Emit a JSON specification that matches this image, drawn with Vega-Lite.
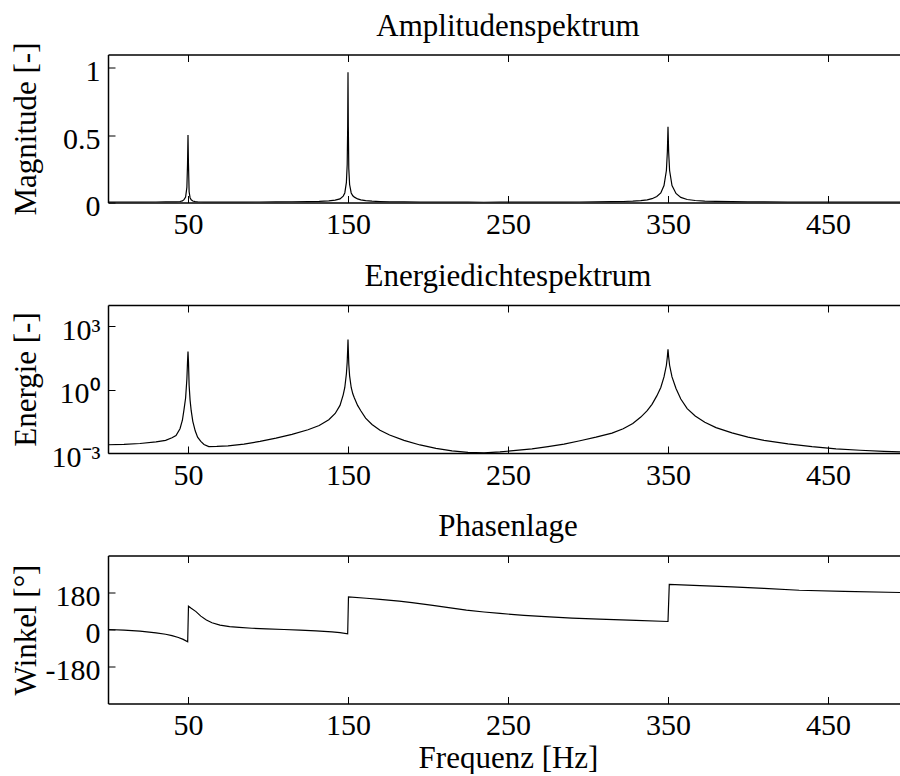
{
  "$schema": "https://vega.github.io/schema/vega-lite/v6.json",
  "background": "white",
  "padding": {"left": 10, "top": 10.5, "right": 0, "bottom": 0},
  "datasets": {
    "spec": [
      {"f": 0, "mag": 0.0031, "E": 0.00245},
      {"f": 10, "mag": 0.0032, "E": 0.00257},
      {"f": 20, "mag": 0.0034, "E": 0.00282},
      {"f": 30, "mag": 0.0037, "E": 0.00339},
      {"f": 36, "mag": 0.004, "E": 0.00398},
      {"f": 40, "mag": 0.0046, "E": 0.00525},
      {"f": 42.5, "mag": 0.0052, "E": 0.00676},
      {"f": 45, "mag": 0.0075, "E": 0.0141},
      {"f": 46.5, "mag": 0.0119, "E": 0.0355},
      {"f": 47.5, "mag": 0.0212, "E": 0.112},
      {"f": 48.5, "mag": 0.0399, "E": 0.398},
      {"f": 49.3, "mag": 0.1125, "E": 3.16},
      {"f": 49.7, "mag": 0.2825, "E": 19.95},
      {"f": 50, "mag": 0.5024, "E": 63.1},
      {"f": 50.3, "mag": 0.2825, "E": 19.95},
      {"f": 50.7, "mag": 0.0796, "E": 1.585},
      {"f": 51.3, "mag": 0.0356, "E": 0.316},
      {"f": 52, "mag": 0.02, "E": 0.1},
      {"f": 53, "mag": 0.0112, "E": 0.0316},
      {"f": 54.5, "mag": 0.0067, "E": 0.0112},
      {"f": 56, "mag": 0.0047, "E": 0.00562},
      {"f": 58, "mag": 0.0038, "E": 0.00355},
      {"f": 60, "mag": 0.0032, "E": 0.00251},
      {"f": 63, "mag": 0.0028, "E": 0.002},
      {"f": 68, "mag": 0.0029, "E": 0.00204},
      {"f": 75, "mag": 0.003, "E": 0.00219},
      {"f": 85, "mag": 0.0032, "E": 0.00263},
      {"f": 95, "mag": 0.0038, "E": 0.00355},
      {"f": 105, "mag": 0.0045, "E": 0.00501},
      {"f": 115, "mag": 0.0055, "E": 0.00759},
      {"f": 125, "mag": 0.0071, "E": 0.0126},
      {"f": 132, "mag": 0.0089, "E": 0.02},
      {"f": 138, "mag": 0.0122, "E": 0.0372},
      {"f": 142, "mag": 0.0172, "E": 0.0741},
      {"f": 145, "mag": 0.0267, "E": 0.178},
      {"f": 147, "mag": 0.0474, "E": 0.562},
      {"f": 148, "mag": 0.071, "E": 1.259},
      {"f": 149, "mag": 0.15, "E": 5.62},
      {"f": 149.5, "mag": 0.2825, "E": 19.95},
      {"f": 149.8, "mag": 0.5636, "E": 79.4},
      {"f": 150, "mag": 0.968, "E": 234.4},
      {"f": 150.2, "mag": 0.5636, "E": 79.4},
      {"f": 150.5, "mag": 0.2518, "E": 15.85},
      {"f": 151, "mag": 0.1337, "E": 4.47},
      {"f": 152, "mag": 0.071, "E": 1.259},
      {"f": 153, "mag": 0.0502, "E": 0.631},
      {"f": 154, "mag": 0.0399, "E": 0.398},
      {"f": 156, "mag": 0.0267, "E": 0.178},
      {"f": 158, "mag": 0.02, "E": 0.1},
      {"f": 161, "mag": 0.0134, "E": 0.0447},
      {"f": 165, "mag": 0.0095, "E": 0.0224},
      {"f": 170, "mag": 0.0069, "E": 0.012},
      {"f": 176, "mag": 0.0053, "E": 0.00708},
      {"f": 185, "mag": 0.004, "E": 0.00398},
      {"f": 195, "mag": 0.0031, "E": 0.0024},
      {"f": 205, "mag": 0.0026, "E": 0.00166},
      {"f": 215, "mag": 0.0022, "E": 0.00126},
      {"f": 225, "mag": 0.0021, "E": 0.00107},
      {"f": 235, "mag": 0.002, "E": 0.00102},
      {"f": 245, "mag": 0.0021, "E": 0.00112},
      {"f": 255, "mag": 0.0023, "E": 0.00132},
      {"f": 265, "mag": 0.0025, "E": 0.00158},
      {"f": 275, "mag": 0.0028, "E": 0.002},
      {"f": 285, "mag": 0.0032, "E": 0.00263},
      {"f": 295, "mag": 0.0039, "E": 0.0038},
      {"f": 305, "mag": 0.0047, "E": 0.00562},
      {"f": 315, "mag": 0.0059, "E": 0.00871},
      {"f": 322, "mag": 0.0075, "E": 0.0141},
      {"f": 328, "mag": 0.01, "E": 0.0251},
      {"f": 333, "mag": 0.0142, "E": 0.0501},
      {"f": 337, "mag": 0.02, "E": 0.1},
      {"f": 340, "mag": 0.0283, "E": 0.1995},
      {"f": 343, "mag": 0.0448, "E": 0.501},
      {"f": 345.5, "mag": 0.071, "E": 1.259},
      {"f": 347.5, "mag": 0.1262, "E": 3.98},
      {"f": 349, "mag": 0.2377, "E": 14.13},
      {"f": 349.6, "mag": 0.3768, "E": 35.5},
      {"f": 350, "mag": 0.5636, "E": 79.4},
      {"f": 350.4, "mag": 0.3768, "E": 35.5},
      {"f": 351, "mag": 0.2377, "E": 14.13},
      {"f": 352.5, "mag": 0.1262, "E": 3.98},
      {"f": 355, "mag": 0.067, "E": 1.122},
      {"f": 358, "mag": 0.0377, "E": 0.355},
      {"f": 362, "mag": 0.0224, "E": 0.126},
      {"f": 367, "mag": 0.015, "E": 0.0562},
      {"f": 373, "mag": 0.0106, "E": 0.0282},
      {"f": 380, "mag": 0.008, "E": 0.0158},
      {"f": 390, "mag": 0.006, "E": 0.00891},
      {"f": 400, "mag": 0.0047, "E": 0.00562},
      {"f": 410, "mag": 0.004, "E": 0.00398},
      {"f": 425, "mag": 0.0033, "E": 0.00269},
      {"f": 440, "mag": 0.0028, "E": 0.002},
      {"f": 455, "mag": 0.0025, "E": 0.00158},
      {"f": 470, "mag": 0.0023, "E": 0.00135},
      {"f": 485, "mag": 0.0022, "E": 0.0012},
      {"f": 495, "mag": 0.0021, "E": 0.00112}
    ],
    "phase": [
      {"f": 0, "deg": 0},
      {"f": 10, "deg": -3},
      {"f": 20, "deg": -8},
      {"f": 30, "deg": -16},
      {"f": 36, "deg": -23},
      {"f": 40, "deg": -30},
      {"f": 44, "deg": -39},
      {"f": 47, "deg": -48},
      {"f": 49.8, "deg": -60},
      {"f": 50.3, "deg": 113},
      {"f": 52, "deg": 103},
      {"f": 55, "deg": 87},
      {"f": 58, "deg": 65},
      {"f": 61.5, "deg": 46},
      {"f": 65, "deg": 33},
      {"f": 70, "deg": 21},
      {"f": 76, "deg": 14},
      {"f": 82, "deg": 10},
      {"f": 90, "deg": 6},
      {"f": 99, "deg": 3},
      {"f": 110, "deg": 0},
      {"f": 120, "deg": -3},
      {"f": 130, "deg": -7},
      {"f": 140, "deg": -12},
      {"f": 145, "deg": -15},
      {"f": 149.8, "deg": -21},
      {"f": 150.3, "deg": 159},
      {"f": 161.5, "deg": 152},
      {"f": 170, "deg": 147},
      {"f": 182, "deg": 138},
      {"f": 190, "deg": 131},
      {"f": 203, "deg": 117},
      {"f": 214, "deg": 105},
      {"f": 224, "deg": 94},
      {"f": 235, "deg": 85},
      {"f": 245, "deg": 78},
      {"f": 260, "deg": 69},
      {"f": 276, "deg": 61},
      {"f": 290, "deg": 55},
      {"f": 307, "deg": 50},
      {"f": 330, "deg": 44},
      {"f": 350, "deg": 39},
      {"f": 350.8, "deg": 219},
      {"f": 370, "deg": 213},
      {"f": 390, "deg": 207},
      {"f": 410, "deg": 200},
      {"f": 432, "deg": 191},
      {"f": 460, "deg": 185},
      {"f": 495, "deg": 180}
    ]
  },
  "spacing": 102.5,
  "bounds": "flush",
  "vconcat": [
    {
      "data": {"name": "spec"},
      "width": 792,
      "height": 148,
      "title": {"text": "Amplitudenspektrum", "dx": 4, "offset": -1},
      "encoding": {
        "y": {
          "field": "mag", "type": "quantitative",
          "scale": {"domain": [0, 1.1], "nice": false, "zero": false},
          "axis": {"values": [0, 0.5, 1], "labelExpr": "'' + datum.value", "title": "Magnitude [-]", "titleX": -73, "titleY": 74}
        }
      },
      "layer": [
        {
          "mark": {"type": "line", "color": "black", "strokeWidth": 1.2, "clip": true},
          "encoding": {
            "x": {"field": "f", "type": "quantitative", "scale": {"domain": [0, 495], "nice": false, "zero": false},
              "axis": {"values": [50, 150, 250, 350, 450], "title": null}}
          }
        },
        {
          "mark": {"type": "line", "opacity": 0},
          "encoding": {
            "x": {"field": "f", "type": "quantitative",
              "axis": {"orient": "top", "values": [50, 150, 250, 350, 450], "labels": false, "title": null}}
          }
        }
      ],
      "resolve": {"axis": {"x": "independent"}}
    },
    {
      "data": {"name": "spec"},
      "width": 792,
      "height": 148,
      "title": {"text": "Energiedichtespektrum", "dx": 4, "offset": 12},
      "encoding": {
        "y": {
          "field": "E", "type": "quantitative",
          "scale": {"type": "log", "domain": [0.001, 10000], "nice": false},
          "axis": {"values": [0.001, 1, 1000], "labelExpr": "datum.value >= 1000 ? '10³' : datum.value >= 1 ? '10⁰' : '10⁻³'", "title": "Energie [-]", "titleX": -73, "titleY": 74}
        }
      },
      "layer": [
        {
          "mark": {"type": "line", "color": "black", "strokeWidth": 1.2, "clip": true},
          "encoding": {
            "x": {"field": "f", "type": "quantitative", "scale": {"domain": [0, 495], "nice": false, "zero": false},
              "axis": {"values": [50, 150, 250, 350, 450], "title": null}}
          }
        },
        {
          "mark": {"type": "line", "opacity": 0},
          "encoding": {
            "x": {"field": "f", "type": "quantitative",
              "axis": {"orient": "top", "values": [50, 150, 250, 350, 450], "labels": false, "title": null}}
          }
        }
      ],
      "resolve": {"axis": {"x": "independent"}}
    },
    {
      "data": {"name": "phase"},
      "width": 792,
      "height": 148,
      "title": {"text": "Phasenlage", "dx": 4, "offset": 12},
      "encoding": {
        "y": {
          "field": "deg", "type": "quantitative",
          "scale": {"domain": [-360, 360], "nice": false, "zero": false},
          "axis": {"values": [-180, 0, 180], "labelExpr": "'' + datum.value", "title": "Winkel [°]", "titleX": -73, "titleY": 74}
        }
      },
      "layer": [
        {
          "mark": {"type": "line", "color": "black", "strokeWidth": 1.2, "clip": true},
          "encoding": {
            "x": {"field": "f", "type": "quantitative", "scale": {"domain": [0, 495], "nice": false, "zero": false},
              "axis": {"values": [50, 150, 250, 350, 450], "title": "Frequenz [Hz]", "titleX": 400, "titleY": 64, "titleBaseline": "alphabetic"}}
          }
        },
        {
          "mark": {"type": "line", "opacity": 0},
          "encoding": {
            "x": {"field": "f", "type": "quantitative",
              "axis": {"orient": "top", "values": [50, 150, 250, 350, 450], "labels": false, "title": null}}
          }
        }
      ],
      "resolve": {"axis": {"x": "independent"}}
    }
  ],
  "config": {
    "view": {"stroke": null},
    "font": "Liberation Serif",
    "title": {"font": "Liberation Serif", "fontSize": 31, "fontWeight": "normal", "color": "black", "baseline": "alphabetic", "anchor": "middle", "frame": "group"},
    "axis": {
      "grid": false,
      "domainColor": "black",
      "domainWidth": 1.5,
      "tickColor": "black",
      "tickWidth": 1,
      "tickSize": -7,
      "labelColor": "black",
      "labelFont": "Liberation Serif",
      "labelFontSize": 30,
      "titleColor": "black",
      "titleFont": "Liberation Serif",
      "titleFontSize": 31,
      "titleFontWeight": "normal",
      "titleBaseline": "alphabetic"
    },
    "axisY": {"labelPadding": 15, "labelOffset": 4},
    "axisX": {"labelPadding": 14, "labelFlush": false, "labelOverlap": false}
  }
}
